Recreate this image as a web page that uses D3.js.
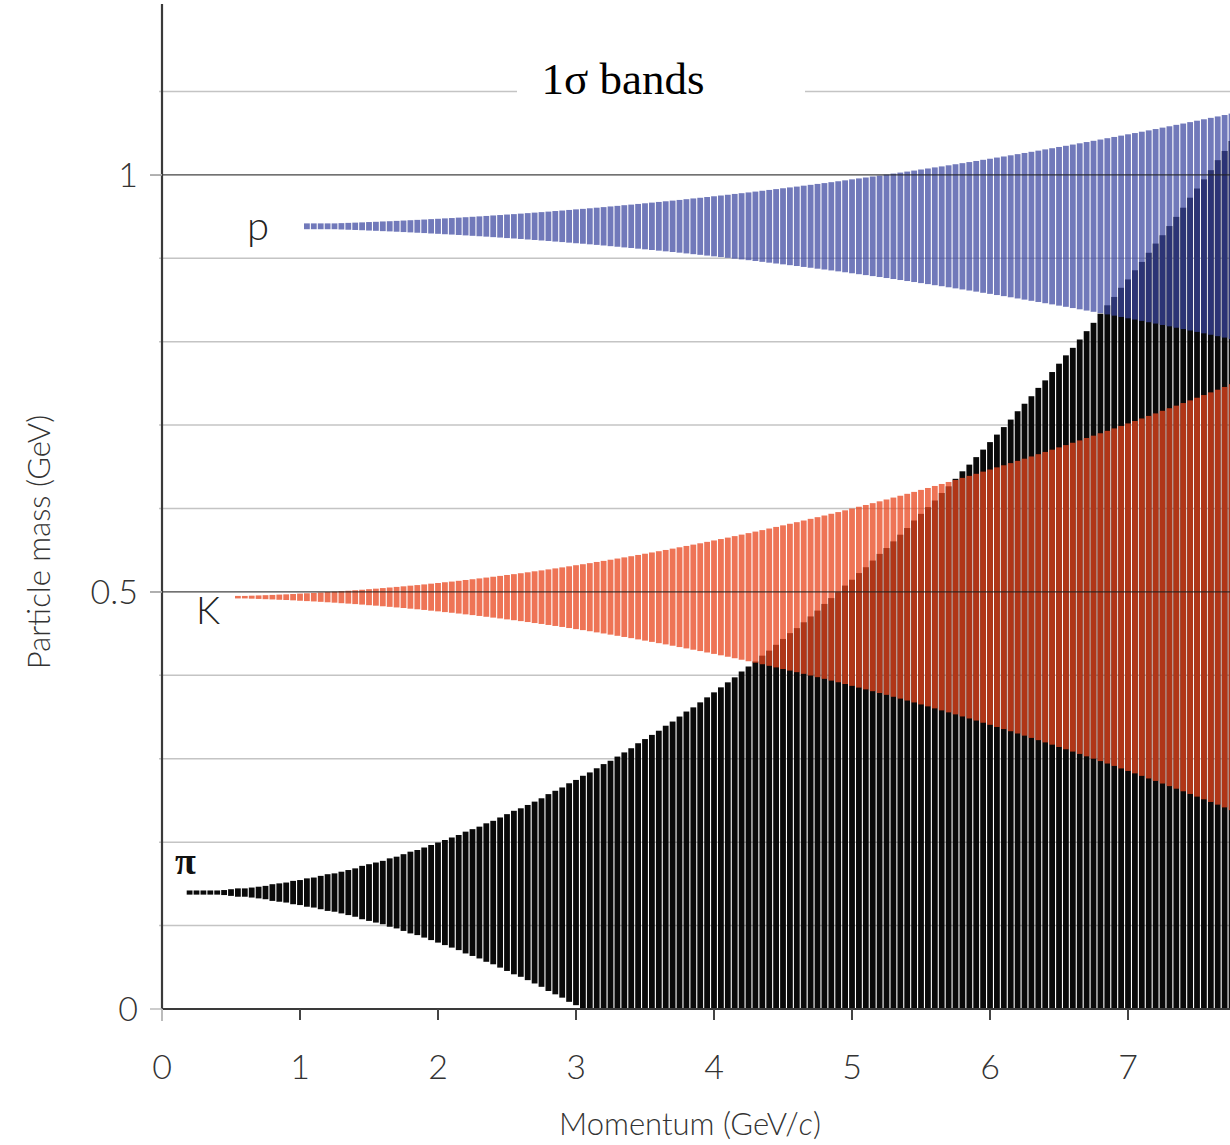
<!DOCTYPE html>
<html>
<head>
<meta charset="utf-8">
<script src="https://cdn.jsdelivr.net/npm/d3@7"></script>
<style>
  body { margin: 0; background: #fff; }
  svg { display: block; }
</style>
</head>
<body>
<div id="chart"></div>
<script>
// Momentum grid (GeV/c), one bar per value
var momentum = [
  0.20,0.25,0.30,0.35,0.40,0.45,0.50,0.55,0.60,0.65,
  0.70,0.75,0.80,0.85,0.90,0.95,1.00,1.05,1.10,1.15,
  1.20,1.25,1.30,1.35,1.40,1.45,1.50,1.55,1.60,1.65,
  1.70,1.75,1.80,1.85,1.90,1.95,2.00,2.05,2.10,2.15,
  2.20,2.25,2.30,2.35,2.40,2.45,2.50,2.55,2.60,2.65,
  2.70,2.75,2.80,2.85,2.90,2.95,3.00,3.05,3.10,3.15,
  3.20,3.25,3.30,3.35,3.40,3.45,3.50,3.55,3.60,3.65,
  3.70,3.75,3.80,3.85,3.90,3.95,4.00,4.05,4.10,4.15,
  4.20,4.25,4.30,4.35,4.40,4.45,4.50,4.55,4.60,4.65,
  4.70,4.75,4.80,4.85,4.90,4.95,5.00,5.05,5.10,5.15,
  5.20,5.25,5.30,5.35,5.40,5.45,5.50,5.55,5.60,5.65,
  5.70,5.75,5.80,5.85,5.90,5.95,6.00,6.05,6.10,6.15,
  6.20,6.25,6.30,6.35,6.40,6.45,6.50,6.55,6.60,6.65,
  6.70,6.75,6.80,6.85,6.90,6.95,7.00,7.05,7.10,7.15,
  7.20,7.25,7.30,7.35,7.40,7.45,7.50,7.55,7.60,7.65,
  7.70,7.75
];

// Nominal masses (GeV)
var pionMass = 0.1396;
var kaonMass = 0.4937;
var protonMass = 0.9383;

// 1 sigma half widths (GeV), first value at the start momentum of each band
var pionStart = 0.20;
var pionSigma = [
  .0025,.0025,.0025,.0025,.0025,.003,.004,.005,.005,.006,
  .007,.008,.010,.011,.012,.014,.015,.017,.018,.020,
  .022,.023,.025,.027,.029,.032,.034,.036,.038,.041,
  .043,.046,.049,.051,.054,.057,.060,.063,.066,.069,
  .073,.076,.079,.083,.086,.090,.094,.098,.101,.105,
  .109,.113,.118,.122,.126,.131,.135,.140,.144,.149,
  .154,.158,.163,.168,.173,.179,.184,.189,.194,.200,
  .205,.211,.217,.222,.228,.234,.240,.246,.252,.258,
  .265,.271,.277,.284,.290,.297,.304,.311,.317,.324,
  .331,.338,.346,.353,.360,.368,.375,.383,.390,.398,
  .406,.413,.421,.429,.437,.446,.454,.462,.470,.479,
  .487,.496,.505,.513,.522,.531,.540,.549,.558,.567,
  .577,.586,.595,.605,.614,.624,.634,.644,.653,.663,
  .673,.683,.694,.704,.714,.725,.735,.746,.756,.767,
  .778,.788,.799,.810,.821,.833,.844,.855,.866,.878,
  .889,.901
];

var kaonStart = 0.55;
var kaonSigma = [
  .0015,.0015,.0018,.0021,.0024,.0027,.0031,.0034,.0038,.0043,
  .0047,.0051,.0056,.0061,.0066,.0072,.0077,.0083,.0089,.0096,
  .0102,.0109,.0116,.0123,.0130,.0138,.0145,.0153,.0162,.0170,
  .0179,.0187,.0196,.0206,.0215,.0225,.0235,.0245,.0255,.0266,
  .0276,.0287,.0298,.0310,.0321,.0333,.0345,.0357,.0370,.0383,
  .0395,.0408,.0422,.0435,.0449,.0463,.0477,.0491,.0506,.0521,
  .0536,.0551,.0566,.0582,.0598,.0614,.0630,.0646,.0663,.0680,
  .0697,.0714,.0732,.0750,.0768,.0786,.0804,.0823,.0842,.0861,
  .0880,.0899,.0919,.0939,.0959,.0979,.1000,.1020,.1041,.1063,
  .1084,.1105,.1127,.1149,.1171,.1194,.1216,.1239,.1262,.1286,
  .1309,.1333,.1357,.1381,.1405,.1430,.1454,.1479,.1505,.1530,
  .1556,.1581,.1607,.1634,.1660,.1687,.1714,.1741,.1768,.1796,
  .1823,.1851,.1879,.1908,.1936,.1965,.1994,.2023,.2053,.2083,
  .2112,.2142,.2173,.2203,.2234,.2265,.2296,.2327,.2359,.2391,
  .2423,.2455,.2487,.2520,.2553
];

var protonStart = 1.05;
var protonSigma = [
  .0035,.0035,.0035,.0035,.0035,.0038,.0041,.0044,.0047,.0051,
  .0054,.0058,.0061,.0065,.0069,.0073,.0077,.0081,.0086,.0090,
  .0095,.0099,.0104,.0109,.0114,.0119,.0124,.0130,.0135,.0141,
  .0146,.0152,.0158,.0164,.0170,.0176,.0183,.0189,.0196,.0203,
  .0209,.0216,.0223,.0230,.0238,.0245,.0253,.0260,.0268,.0276,
  .0284,.0292,.0300,.0308,.0316,.0325,.0334,.0342,.0351,.0360,
  .0369,.0378,.0388,.0397,.0406,.0416,.0426,.0436,.0446,.0456,
  .0466,.0476,.0487,.0497,.0508,.0518,.0529,.0540,.0551,.0563,
  .0574,.0585,.0597,.0608,.0620,.0632,.0644,.0656,.0668,.0681,
  .0693,.0706,.0718,.0731,.0744,.0757,.0770,.0783,.0797,.0810,
  .0824,.0837,.0851,.0865,.0879,.0893,.0907,.0922,.0936,.0951,
  .0965,.0980,.0995,.1010,.1025,.1040,.1056,.1071,.1087,.1103,
  .1118,.1134,.1150,.1166,.1183,.1199,.1216,.1232,.1249,.1266,
  .1283,.1300,.1317,.1334,.1351
];

// Axis ticks
var xTicks = [0, 1, 2, 3, 4, 5, 6, 7];
var yTicks = [0, 0.5, 1];
var yGrid = [0.1, 0.2, 0.3, 0.4, 0.6, 0.7, 0.8, 0.9, 1.1];
var yDark = [0.5, 1];

var width = 1230, height = 1145;
var plotLeft = 162, plotBottom = 1009, plotTop = 8;

var x = d3.scaleLinear().domain([0, 7.739]).range([plotLeft, width]);
var y = d3.scaleLinear().domain([0, 1.2]).range([plotBottom, plotTop]);

var svg = d3.select("#chart").append("svg")
    .attr("width", width)
    .attr("height", height);

svg.append("defs").append("clipPath").attr("id", "plot")
  .append("rect")
    .attr("x", plotLeft).attr("y", 0)
    .attr("width", width - plotLeft).attr("height", plotBottom);

// light grid lines
svg.append("g").selectAll("line")
    .data(yGrid)
    .enter().append("line")
    .attr("x1", plotLeft - 3).attr("x2", width)
    .attr("y1", d => y(d)).attr("y2", d => y(d))
    .attr("stroke", "#c4c4c4")
    .attr("stroke-width", 1.5);

// build the bars of one band
function bandData(start, mass, sigma) {
    var offset = momentum.indexOf(start);
    return sigma.map((s, i) => ({
        p: momentum[offset + i],
        lo: Math.max(0, mass - s),
        hi: mass + s
    }));
}

var step = x(0.05) - x(0);
var barW = step - 1.1;

function drawBand(data, color, opacity) {
    svg.append("g")
        .attr("clip-path", "url(#plot)")
        .selectAll("rect")
        .data(data)
        .enter().append("rect")
        .attr("x", d => x(d.p) - barW / 2)
        .attr("y", d => y(d.hi))
        .attr("width", barW)
        .attr("height", d => Math.max(1.5, y(d.lo) - y(d.hi)))
        .attr("fill", color)
        .attr("fill-opacity", opacity);
}

drawBand(bandData(pionStart, pionMass, pionSigma), "#000", 0.96);
drawBand(bandData(kaonStart, kaonMass, kaonSigma), "#e8461e", 0.75);
drawBand(bandData(protonStart, protonMass, protonSigma), "#3a45a0", 0.72);

// dark reference lines at 0.5 and 1
svg.append("g").selectAll("line")
    .data(yDark)
    .enter().append("line")
    .attr("x1", plotLeft - 12).attr("x2", width)
    .attr("y1", d => y(d)).attr("y2", d => y(d))
    .attr("stroke", "#222")
    .attr("stroke-width", 1.3)
    .attr("stroke-opacity", 0.85);

// axes
svg.append("line")
    .attr("x1", plotLeft).attr("x2", plotLeft)
    .attr("y1", 4).attr("y2", plotBottom + 1)
    .attr("stroke", "#3a3a3a").attr("stroke-width", 2.2);
svg.append("line")
    .attr("x1", plotLeft - 1).attr("x2", width)
    .attr("y1", plotBottom).attr("y2", plotBottom)
    .attr("stroke", "#3a3a3a").attr("stroke-width", 2.2);

var tickFont = "Lato, 'Open Sans', sans-serif";

// x ticks and labels
var xt = svg.append("g").selectAll("g")
    .data(xTicks)
    .enter().append("g")
    .attr("transform", d => `translate(${x(d)},${plotBottom})`);
xt.append("line")
    .attr("y1", 0).attr("y2", d => d === 0 ? 12 : 11)
    .attr("stroke", d => d === 0 ? "#bbb" : "#444")
    .attr("stroke-width", 2);
xt.append("text")
    .attr("y", 70)
    .attr("text-anchor", "middle")
    .style("font-family", tickFont)
    .style("font-weight", 300)
    .style("font-size", "34px")
    .style("fill", "#333")
    .text(d => d);

// y ticks and labels
var yt = svg.append("g").selectAll("g")
    .data(yTicks)
    .enter().append("g")
    .attr("transform", d => `translate(${plotLeft},${y(d)})`);
yt.append("line")
    .attr("x1", -12).attr("x2", 0)
    .attr("stroke", "#bbb")
    .attr("stroke-width", 1.5);
yt.append("text")
    .attr("x", -24)
    .attr("dy", "0.36em")
    .attr("text-anchor", "end")
    .style("font-family", tickFont)
    .style("font-weight", 300)
    .style("font-size", "34px")
    .style("fill", "#333")
    .text(d => d);

// axis titles
svg.append("text")
    .attr("x", 690).attr("y", 1135)
    .attr("text-anchor", "middle")
    .style("font-family", tickFont)
    .style("font-weight", 300)
    .style("font-size", "31px")
    .style("fill", "#333")
    .html("Momentum (GeV/<tspan font-style='italic'>c</tspan>)");

svg.append("text")
    .attr("transform", "translate(50,542) rotate(-90)")
    .attr("text-anchor", "middle")
    .style("font-family", tickFont)
    .style("font-weight", 300)
    .style("font-size", "31px")
    .style("fill", "#333")
    .text("Particle mass (GeV)");

// title box over the 1.1 grid line
svg.append("rect")
    .attr("x", 517).attr("y", 60)
    .attr("width", 288).attr("height", 50)
    .attr("fill", "#fff");
svg.append("text")
    .attr("x", 623).attr("y", 94)
    .attr("text-anchor", "middle")
    .style("font-family", "'Liberation Serif', 'Times New Roman', serif")
    .style("font-size", "45px")
    .style("fill", "#000")
    .text("1σ bands");

// particle labels
var labelFont = "Lato, 'Open Sans', sans-serif";
svg.append("text")
    .attr("x", 247).attr("y", 240)
    .style("font-family", labelFont)
    .style("font-weight", 300)
    .style("font-size", "40px")
    .style("fill", "#222")
    .text("p");
svg.append("text")
    .attr("x", 196).attr("y", 624)
    .style("font-family", labelFont)
    .style("font-weight", 300)
    .style("font-size", "38px")
    .style("fill", "#222")
    .text("K");
svg.append("text")
    .attr("x", 175).attr("y", 874)
    .style("font-family", "'Liberation Serif', 'Times New Roman', serif")
    .style("font-weight", "bold")
    .style("font-size", "38px")
    .style("fill", "#111")
    .text("π");
</script>
</body>
</html>
